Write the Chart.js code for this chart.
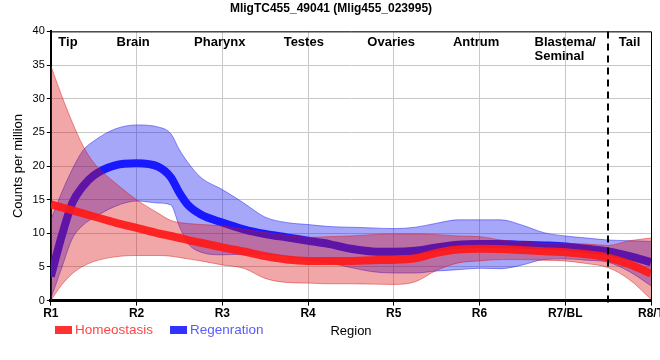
<!DOCTYPE html>
<html>
<head>
<meta charset="utf-8">
<script src="https://cdn.jsdelivr.net/npm/chart.js@4.4.1/dist/chart.umd.min.js"></script>
<style>
  html, body { margin: 0; padding: 0; background: #fff; }
  #wrap { width: 660px; height: 360px; }
</style>
</head>
<body>
<div id="wrap"><canvas id="regionChart"></canvas></div>
<script>
// position along the body, 0 = R1 ... 7 = R8/T
const positions = [0, 0.125, 0.25, 0.375, 0.5, 0.75, 1, 1.25, 1.4, 1.5, 1.6, 1.75, 2, 2.25, 2.5, 2.75, 3, 3.25, 3.5, 3.75, 4, 4.25, 4.5, 4.75, 5, 5.25, 5.5, 5.75, 6, 6.25, 6.5, 6.75, 7];
const tickLabels = ['R1', 'R2', 'R3', 'R4', 'R5', 'R6', 'R7/BL', 'R8/T'];

const homeostasis      = [14.3, 13.85, 13.4, 12.95, 12.5, 11.6, 10.8, 10.0, 9.6, 9.3, 9.0, 8.6, 7.9, 7.3, 6.6, 6.1, 5.9, 5.9, 5.9, 6.0, 6.05, 6.3, 7.1, 7.6, 7.7, 7.65, 7.5, 7.35, 7.2, 6.9, 6.4, 5.4, 4.0];
const homeostasisUpper = [34.9, 30.5, 26.5, 23.0, 20.5, 17.5, 15.0, 13.0, 11.9, 11.6, 11.45, 11.3, 11.1, 10.6, 10.1, 9.7, 9.4, 9.5, 9.6, 9.8, 9.9, 9.9, 9.8, 9.6, 9.5, 9.0, 8.7, 8.5, 8.5, 8.4, 8.2, 8.9, 9.3];
const homeostasisLower = [0, 2.3, 4.0, 5.1, 5.8, 6.5, 6.7, 6.7, 6.6, 6.4, 6.2, 5.9, 5.3, 4.8, 3.3, 2.7, 2.6, 2.5, 2.5, 2.45, 2.4, 2.8, 4.5, 5.6, 5.9, 6.1, 6.1, 6.0, 5.9, 5.5, 4.9, 3.1, 0.2];

const regeneration      = [3.6, 9.5, 14.5, 17.0, 18.6, 20.1, 20.4, 19.9, 18.3, 16.0, 14.2, 12.8, 11.6, 10.6, 9.9, 9.4, 8.9, 8.4, 7.7, 7.3, 7.25, 7.4, 7.9, 8.3, 8.4, 8.4, 8.3, 8.2, 8.05, 7.7, 7.3, 6.6, 5.7];
const regenerationUpper = [12, 16, 19.5, 22.3, 23.7, 25.5, 26.1, 25.8, 24.8, 22.4, 20.5, 18.3, 16.5, 14.5, 12.4, 11.6, 11.3, 11.0, 10.9, 10.8, 10.7, 10.9, 11.5, 12.0, 12.0, 12.0, 11.2, 10.1, 9.6, 9.3, 9.0, 8.9, 8.8];
const regenerationLower = [0.3, 4.8, 9.2, 11.2, 12.3, 14.0, 14.8, 14.5, 14.2, 11.0, 8.5, 7.2, 6.8, 6.9, 6.9, 6.6, 6.0, 5.6, 4.9, 4.3, 4.1, 4.1, 4.4, 4.6, 4.8, 4.75, 5.3, 6.1, 6.2, 6.0, 5.7, 4.3, 2.2];

const regionNames = ['Tip', 'Brain', 'Pharynx', 'Testes', 'Ovaries', 'Antrum', 'Blastema/', 'Tail'];
const regionCenters = [0.2, 0.96, 1.97, 2.95, 3.97, 4.96, 6.0, 6.75];
const tailBoundary = 6.5;

const FONT = 'Arial, "Liberation Sans", sans-serif';

const legendItems = [
    { text: 'Homeostasis', box: 'rgb(255, 50, 50)', color: 'rgb(255, 70, 70)' },
    { text: 'Regenration', box: 'rgb(50, 50, 255)', color: 'rgb(90, 90, 255)' }
];

function pts(ys) {
    return positions.map((x, i) => ({ x: x, y: ys[i] }));
}

const overlay = {
    id: 'overlay',
    afterDraw(chart) {
        const ctx = chart.ctx;
        const a = chart.chartArea;
        const xs = chart.scales.x;
        ctx.save();
        // top and right frame
        ctx.strokeStyle = '#000';
        ctx.lineWidth = 1;
        ctx.beginPath();
        ctx.moveTo(a.left, a.top + 0.5);
        ctx.lineTo(a.right + 0.5, a.top + 0.5);
        ctx.lineTo(a.right + 0.5, a.bottom);
        ctx.stroke();
        // tail boundary
        const bx = Math.round(xs.getPixelForValue(tailBoundary));
        ctx.lineWidth = 2;
        ctx.setLineDash([7, 5]);
        ctx.beginPath();
        ctx.moveTo(bx, a.top);
        ctx.lineTo(bx, a.bottom + 6);
        ctx.stroke();
        ctx.setLineDash([]);
        // region names
        ctx.fillStyle = '#000';
        ctx.font = 'bold 13px ' + FONT;
        ctx.textBaseline = 'middle';
        regionNames.forEach((name, i) => {
            const cx = xs.getPixelForValue(regionCenters[i]);
            if (name === 'Blastema/') {
                const w = ctx.measureText(name).width;
                ctx.textAlign = 'left';
                ctx.fillText(name, cx - w / 2, a.top + 11);
                ctx.fillText('Seminal', cx - w / 2, a.top + 25);
            } else {
                ctx.textAlign = 'center';
                ctx.fillText(name, cx, a.top + 11);
            }
        });
        // legend row
        const ly = 330;
        let lx = 55;
        ctx.font = '13.5px ' + FONT;
        ctx.textAlign = 'left';
        legendItems.forEach(item => {
            ctx.fillStyle = item.box;
            ctx.fillRect(lx, ly - 4, 17, 8);
            ctx.fillStyle = item.color;
            ctx.fillText(item.text, lx + 20, ly);
            lx += 20 + ctx.measureText(item.text).width + 17;
        });
        // x axis title
        ctx.fillStyle = '#000';
        ctx.font = '13px ' + FONT;
        ctx.textAlign = 'center';
        ctx.fillText('Region', 351, 331);
        ctx.restore();
    }
};

const ctx = document.getElementById('regionChart').getContext('2d');
const regionChart = new Chart(ctx, {
    type: 'line',
    data: {
        datasets: [
            {
                label: 'Homeostasis',
                data: pts(homeostasis),
                borderColor: 'rgba(255, 25, 25, 0.92)',
                borderWidth: 8,
                fill: false
            },
            {
                label: 'hUpper',
                data: pts(homeostasisUpper),
                borderColor: 'rgba(215, 20, 20, 0.45)',
                backgroundColor: 'rgba(215, 10, 10, 0.36)',
                borderWidth: 1,
                fill: '+1'
            },
            {
                label: 'hLower',
                data: pts(homeostasisLower),
                borderColor: 'rgba(215, 20, 20, 0.45)',
                borderWidth: 1,
                fill: false
            },
            {
                label: 'Regenration',
                data: pts(regeneration),
                borderColor: 'rgb(25, 25, 255)',
                borderWidth: 8,
                fill: false
            },
            {
                label: 'rUpper',
                data: pts(regenerationUpper),
                borderColor: 'rgba(20, 20, 240, 0.45)',
                backgroundColor: 'rgba(10, 10, 240, 0.36)',
                borderWidth: 1,
                fill: '+1'
            },
            {
                label: 'rLower',
                data: pts(regenerationLower),
                borderColor: 'rgba(20, 20, 240, 0.45)',
                borderWidth: 1,
                fill: false
            }
        ]
    },
    options: {
        responsive: true,
        maintainAspectRatio: false,
        animation: false,
        elements: {
            point: { radius: 0 },
            line: { cubicInterpolationMode: 'monotone', borderCapStyle: 'butt' }
        },
        layout: { padding: { left: 11, right: 9, top: 0, bottom: 38 } },
        plugins: {
            title: {
                display: true,
                text: 'MligTC455_49041 (Mlig455_023995)',
                color: '#000',
                font: { family: FONT, size: 12, weight: 'bold' },
                padding: { top: 1, bottom: 16 }
            },
            legend: { display: false },
            tooltip: { enabled: false }
        },
        scales: {
            x: {
                type: 'linear',
                min: 0,
                max: 7,
                afterFit(scale) { scale.paddingRight = 0; },
                border: { color: '#000', width: 3 },
                grid: { color: '#c8c8c8', lineWidth: 1, tickColor: '#000', tickLength: 5 },
                ticks: {
                    stepSize: 1,
                    color: '#000',
                    padding: 1,
                    maxRotation: 0,
                    font: { family: FONT, size: 12, weight: 'bold' },
                    callback: v => tickLabels[v]
                }
            },
            y: {
                min: 0,
                max: 40,
                border: { color: '#000', width: 2 },
                grid: { color: '#c8c8c8', lineWidth: 1, tickColor: '#000', tickLength: 4 },
                ticks: {
                    stepSize: 5,
                    color: '#000',
                    padding: 2,
                    font: { family: FONT, size: 11 }
                },
                title: {
                    display: true,
                    text: 'Counts per million',
                    color: '#000',
                    font: { family: FONT, size: 13 },
                    padding: { top: 0, bottom: 4 }
                }
            }
        }
    },
    plugins: [overlay]
});
</script>
</body>
</html>
